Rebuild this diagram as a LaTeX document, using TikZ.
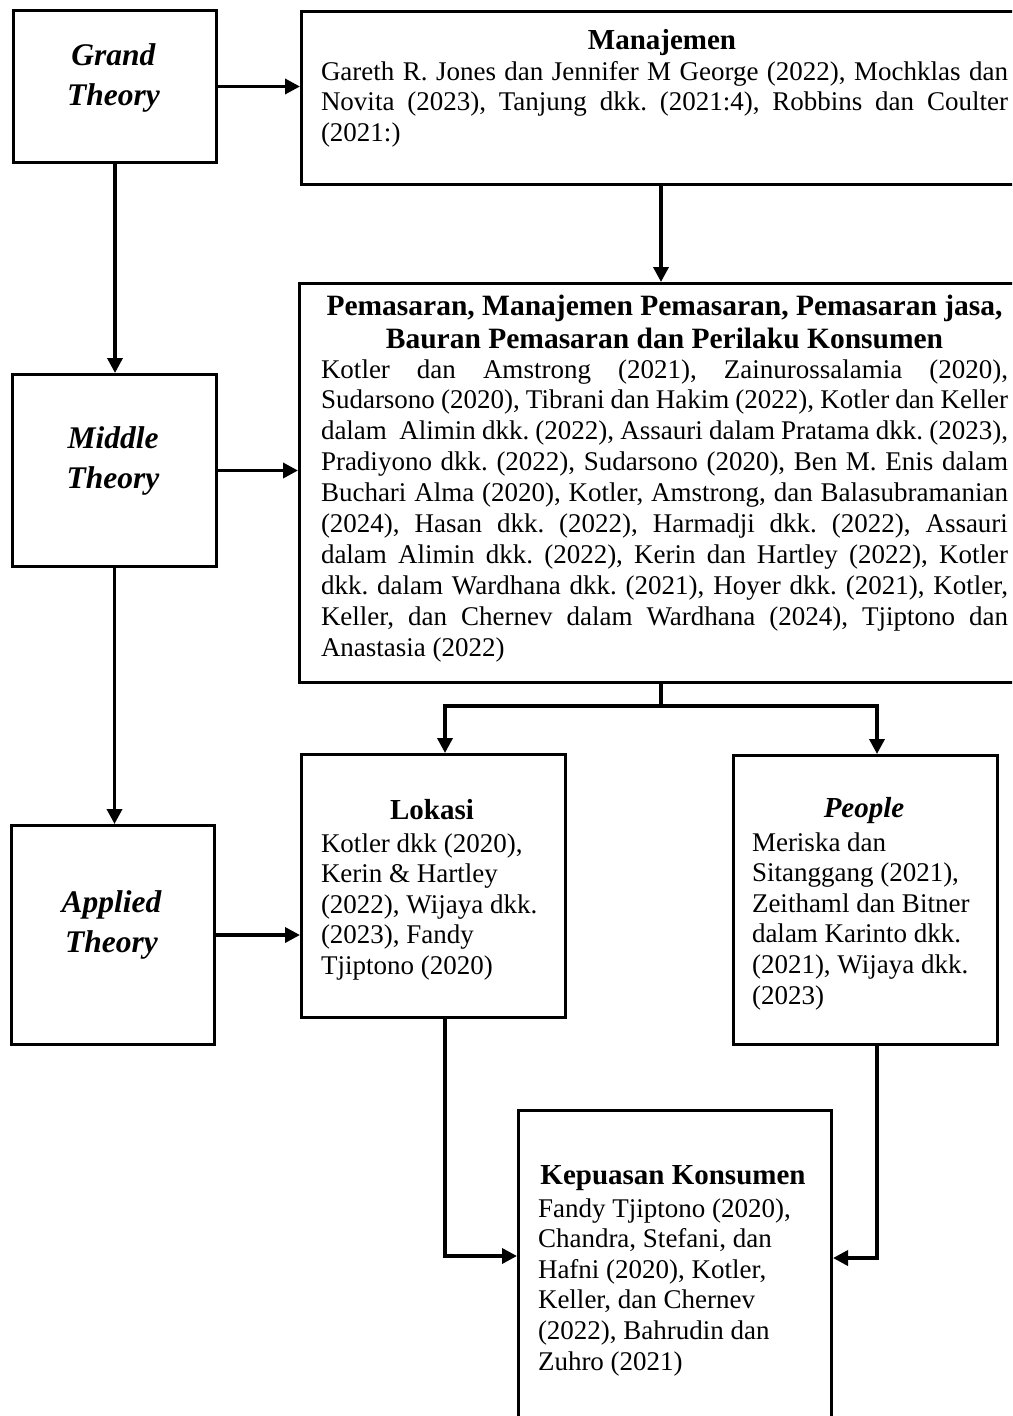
\documentclass[tikz,border=0pt]{standalone}
\usepackage{fontspec}
\setmainfont{Liberation Serif}
\usetikzlibrary{arrows.meta}
\frenchspacing
\newcommand\bodyf{\fontsize{27}{30.6}\selectfont}
\newcommand\headf{\fontsize{29}{33}\selectfont\bfseries}
\newcommand\thf{\fontsize{31.5}{40}\selectfont\bfseries\itshape}
\newcommand\jl[1]{\hbox to \linewidth{#1}}
\tikzset{
  box/.style={draw, line width=3pt, inner sep=0pt, anchor=north west},
  arr/.style={line width=3.5pt, line join=miter, -{Triangle[length=15pt,width=15pt]}},
  ln/.style={line width=3.5pt},
  txt/.style={inner sep=0pt, outer sep=0pt},
  theory/.style={txt, align=center, font=\thf},
}
\begin{document}
\frenchspacing
\begin{tikzpicture}[x=1pt,y=-1pt]
\useasboundingbox (0,0) rectangle (1012,1416);
\clip (0,0) rectangle (1012,1416);
% boxes
\node[box, minimum width=203pt, minimum height=152pt] (grand) at (12,9) {};
\node[box, minimum width=204pt, minimum height=192pt] (middle) at (11,373) {};
\node[box, minimum width=203pt, minimum height=219pt] (applied) at (10,824) {};
\node[box, minimum width=740pt, minimum height=173pt] (man) at (300,10) {};
\node[box, minimum width=742pt, minimum height=399pt] (pem) at (298,282) {};
\node[box, minimum width=264pt, minimum height=263pt] (lok) at (300,753) {};
\node[box, minimum width=264pt, minimum height=289pt] (peo) at (732,754) {};
\node[box, minimum width=313pt, minimum height=340pt] (kep) at (517,1109) {};
% theory labels (base = baseline of last line)
\node[theory, anchor=base] (grandT) at (113.5,105) {Grand\\Theory};
\node[theory, anchor=base] (middleT) at (113,488) {Middle\\Theory};
\node[theory, anchor=base] (appliedT) at (111.5,952) {Applied\\Theory};
% Manajemen
\node[txt, anchor=base] (manH) at (662,49) {\headf Manajemen};
\node[txt, anchor=base west] (manB) at (321,80) {\begin{minipage}[t]{687pt}\bodyf\frenchspacing
\jl{Gareth R. Jones dan Jennifer M George (2022), Mochklas dan}
\jl{Novita (2023), Tanjung dkk. (2021:4), Robbins dan Coulter}
\jl{(2021:)\hfill}
\end{minipage}};
% Pemasaran
\node[txt, anchor=base] (pemH1) at (664.5,315) {\fontsize{29.5}{33}\selectfont\bfseries Pemasaran, Manajemen Pemasaran, Pemasaran jasa,};
\node[txt, anchor=base] (pemH2) at (664.5,348) {\fontsize{29.5}{33}\selectfont\bfseries Bauran Pemasaran dan Perilaku Konsumen};
\node[txt, anchor=base west] (pemB) at (321,378) {\begin{minipage}[t]{687pt}\fontsize{27}{30.9}\selectfont\frenchspacing
\jl{Kotler dan Amstrong (2021), Zainurossalamia (2020),}
\jl{Sudarsono (2020), Tibrani dan Hakim (2022), Kotler dan Keller}
\jl{dalam\ \ Alimin dkk. (2022), Assauri dalam Pratama dkk. (2023),}
\jl{Pradiyono dkk. (2022), Sudarsono (2020), Ben M. Enis dalam}
\jl{Buchari Alma (2020), Kotler, Amstrong, dan Balasubramanian}
\jl{(2024), Hasan dkk. (2022), Harmadji dkk. (2022), Assauri}
\jl{dalam Alimin dkk. (2022), Kerin dan Hartley (2022), Kotler}
\jl{dkk. dalam Wardhana dkk. (2021), Hoyer dkk. (2021), Kotler,}
\jl{Keller, dan Chernev dalam Wardhana (2024), Tjiptono dan}
\jl{Anastasia (2022)\hfill}
\end{minipage}};
% Lokasi
\node[txt, anchor=base] (lokH) at (432,819) {\headf Lokasi};
\node[txt, anchor=base west] (lokB) at (321,852) {\begin{minipage}[t]{240pt}\bodyf\raggedright\frenchspacing
Kotler dkk (2020),\\
Kerin \& Hartley\\
(2022), Wijaya dkk.\\
(2023), Fandy\\
Tjiptono (2020)
\end{minipage}};
% People
\node[txt, anchor=base] (peoH) at (864,817) {\headf\itshape People};
\node[txt, anchor=base west] (peoB) at (752,851) {\begin{minipage}[t]{240pt}\bodyf\raggedright\frenchspacing
Meriska dan\\
Sitanggang (2021),\\
Zeithaml dan Bitner\\
dalam Karinto dkk.\\
(2021), Wijaya dkk.\\
(2023)
\end{minipage}};
% Kepuasan
\node[txt, anchor=base] (kepH) at (673,1184) {\headf Kepuasan Konsumen};
\node[txt, anchor=base west] (kepB) at (538,1217) {\begin{minipage}[t]{285pt}\bodyf\raggedright\frenchspacing
Fandy Tjiptono (2020),\\
Chandra, Stefani, dan\\
Hafni (2020), Kotler,\\
Keller, dan Chernev\\
(2022), Bahrudin dan\\
Zuhro (2021)
\end{minipage}};
% helper coordinates
\coordinate (cA) at (661,0);
\coordinate (cL) at (445,0);
\coordinate (cP) at (877,0);
\coordinate (br) at (661,706);
\coordinate (yL) at (0,1256);
\coordinate (yR) at (0,1258);
% connectors
\draw[arr] (grand.east) -- (grand.east -| man.west);
\draw[arr] (grand.south) -- (grand.south |- middle.north);
\draw[arr] (man.south -| cA) -- (pem.north -| cA);
\draw[arr] (middle.east) -- (middle.east -| pem.west);
\draw[arr] (middle.south) -- (middle.south |- applied.north);
\draw[arr] (applied.east) -- (applied.east -| lok.west);
\draw[ln] (pem.south -| cA) -- (br);
\draw[arr] (br) -- (br -| cL) -- (lok.north -| cL);
\draw[arr] (br) -- (br -| cP) -- (peo.north -| cP);
\draw[arr] (lok.south -| cL) |- (kep.west |- yL);
\draw[arr] (peo.south -| cP) |- (kep.east |- yR);
\end{tikzpicture}
\end{document}
